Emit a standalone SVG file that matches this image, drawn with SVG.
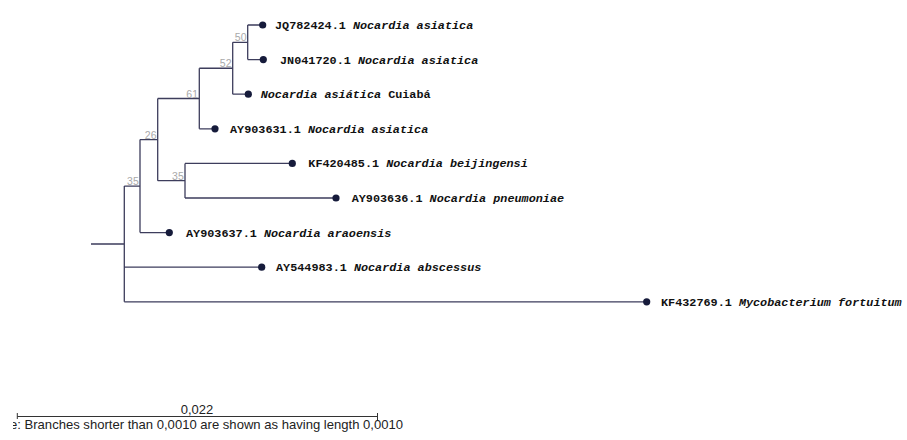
<svg xmlns="http://www.w3.org/2000/svg" width="907" height="440" viewBox="0 0 907 440">
<style>
.br{fill:none;stroke:#3d3d5c;stroke-width:1.3}
.dot{fill:#161b3b}
.lf{font-family:"Liberation Mono",monospace;font-weight:bold;font-size:11.8px;fill:#111}
.sp{font-style:italic}
.bs{font-family:"Liberation Sans",Arial,sans-serif;font-size:10.5px;fill:#a9a9a9;text-anchor:end}
.sc{font-family:"Liberation Sans",Arial,sans-serif;font-size:13px;fill:#222}
</style>
<defs>
<clipPath id="clipNote"><rect x="13" y="400" width="900" height="40"/></clipPath>
</defs>
<rect width="907" height="440" fill="#fff"/>
<g id="connectors">
<path class="br" d="M91,244H124.3M124.3,186.1V301.8M124.3,186.1H140M124.3,301.8H646.7M124.3,267.2H261.7"/>
<path class="br" d="M140,139.6V232.6M140,139.6H157.7M140,232.6H169.3"/>
<path class="br" d="M157.7,98.5V180.7M157.7,98.5H199.3M157.7,180.7H185"/>
<path class="br" d="M185,163.4V198M185,163.4H292.3M185,198H336"/>
<path class="br" d="M199.3,68.25V128.8M199.3,68.25H232.7M199.3,128.8H215"/>
<path class="br" d="M232.7,42.3V94.2M232.7,42.3H247.7M232.7,94.2H248.3"/>
<path class="br" d="M247.7,25V59.6M247.7,25H262.7M247.7,59.6H263.3"/>
</g>
<g id="n50"><text class="bs" x="246.5" y="41.3">50</text></g>
<g id="n52"><text class="bs" x="231.5" y="67.3">52</text></g>
<g id="n61"><text class="bs" x="198" y="97.5">61</text></g>
<g id="n26"><text class="bs" x="156.5" y="138.6">26</text></g>
<g id="n35a"><text class="bs" x="183.8" y="179.7">35</text></g>
<g id="n35b"><text class="bs" x="138.8" y="185.1">35</text></g>
<g id="leaf1"><circle class="dot" cx="262.7" cy="25" r="3.6"/><text class="lf" x="275" y="29">JQ782424.1 <tspan class="sp">Nocardia asiatica</tspan></text></g>
<g id="leaf2"><circle class="dot" cx="263.3" cy="59.6" r="3.6"/><text class="lf" x="280" y="63.6">JN041720.1 <tspan class="sp">Nocardia asiatica</tspan></text></g>
<g id="leaf3"><circle class="dot" cx="248.3" cy="94.2" r="3.6"/><text class="lf" x="260.7" y="98.2"><tspan class="sp">Nocardia asiática</tspan> Cuiabá</text></g>
<g id="leaf4"><circle class="dot" cx="215" cy="128.8" r="3.6"/><text class="lf" x="230" y="132.8">AY903631.1 <tspan class="sp">Nocardia asiatica</tspan></text></g>
<g id="leaf5"><circle class="dot" cx="292.3" cy="163.4" r="3.6"/><text class="lf" x="308.3" y="167.4">KF420485.1 <tspan class="sp">Nocardia beijingensi</tspan></text></g>
<g id="leaf6"><circle class="dot" cx="336" cy="198" r="3.6"/><text class="lf" x="351.7" y="202">AY903636.1 <tspan class="sp">Nocardia pneumoniae</tspan></text></g>
<g id="leaf7"><circle class="dot" cx="169.3" cy="232.6" r="3.6"/><text class="lf" x="186" y="236.6">AY903637.1 <tspan class="sp">Nocardia araoensis</tspan></text></g>
<g id="leaf8"><circle class="dot" cx="261.7" cy="267.2" r="3.6"/><text class="lf" x="276" y="271.2">AY544983.1 <tspan class="sp">Nocardia abscessus</tspan></text></g>
<g id="leaf9"><circle class="dot" cx="646.7" cy="301.8" r="3.6"/><text class="lf" x="661" y="305.8">KF432769.1 <tspan class="sp">Mycobacterium fortuitum</tspan></text></g>
<g id="scale">
<path d="M17.3,416.5H377.5M17.3,413V419M377.5,413V421" fill="none" stroke="#333" stroke-width="1"/>
<text class="sc" x="197" y="414" text-anchor="middle">0,022</text>
<text class="sc" x="10" y="429" clip-path="url(#clipNote)" textLength="393" lengthAdjust="spacingAndGlyphs">e: Branches shorter than 0,0010 are shown as having length 0,0010</text>
</g>
</svg>
